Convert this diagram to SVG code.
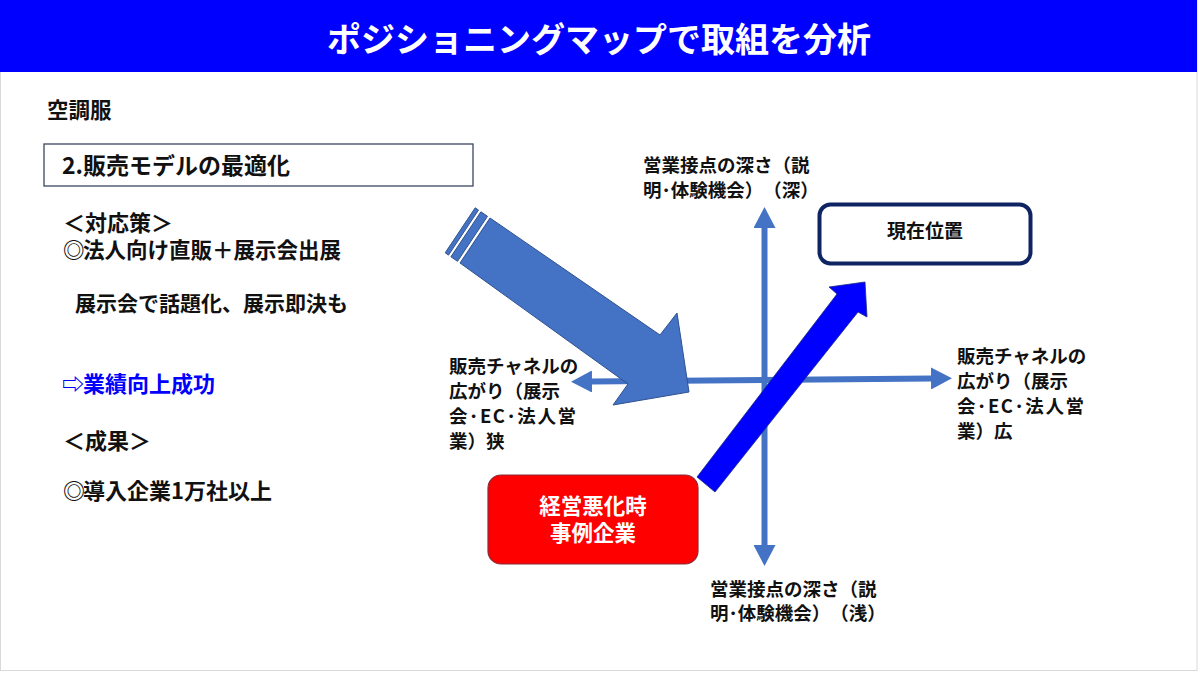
<svg xmlns="http://www.w3.org/2000/svg" width="1200" height="673" viewBox="0 0 1200 673">
  <defs>
    <style>
      .jp { font-family: "Noto Sans CJK JP", "Noto Sans", sans-serif; font-weight: 700; text-spacing-trim: space-all; }
      .body { font-size: 21.5px; fill: #111; }
      .lbl { font-size: 18.5px; fill: #111; }
      .axis { stroke: #4472C4; stroke-width: 6; fill: none; }
    </style>
    <marker id="ah" markerUnits="userSpaceOnUse" markerWidth="22" markerHeight="22" refX="0" refY="11" orient="auto-start-reverse" viewBox="0 0 22 22">
      <path d="M0,0 L21,11 L0,22 z" fill="#4472C4"/>
    </marker>
  </defs>

  <rect x="0" y="0" width="1200" height="673" fill="#ffffff"/>
  <rect x="0.5" y="0.5" width="1196.5" height="670" fill="none" stroke="#d9d9d9" stroke-width="1"/>

  <g id="title">
    <rect x="0" y="0" width="1197" height="72" fill="#0000FF"/>
    <text x="599" y="52" text-anchor="middle" class="jp" font-size="34" fill="#ffffff">ポジショニングマップで取組を分析</text>
  </g>

  <g id="left-text">
    <text x="47" y="118" class="jp" font-size="21.5" fill="#111">空調服</text>
    <rect x="44" y="144" width="429" height="42" fill="#ffffff" stroke="#3a4660" stroke-width="1.3"/>
    <text x="62" y="174" class="jp" font-size="23" fill="#111">2.販売モデルの最適化</text>
    <text x="63" y="231" class="jp" font-size="22" fill="#111">＜対応策＞</text>
    <text y="258" class="jp body"><tspan x="63">◎</tspan><tspan x="83">法人向け直販＋展示会出展</tspan></text>
    <text x="75" y="311" class="jp" font-size="21" fill="#111">展示会で話題化、展示即決も</text>
    <text y="392" class="jp" font-size="22" fill="#0000FF"><tspan x="62">⇨</tspan><tspan x="83">業績向上成功</tspan></text>
    <text x="63" y="449" class="jp" font-size="22" fill="#111">＜成果＞</text>
    <text y="499" class="jp" font-size="22" fill="#111"><tspan x="63">◎</tspan><tspan x="83">導入企業1万社以上</tspan></text>
  </g>

  <g id="connectors">
    <line x1="764.5" y1="228" x2="764.5" y2="545" class="axis" marker-start="url(#ah)" marker-end="url(#ah)"/>
    <line x1="592" y1="381.5" x2="931" y2="378.5" class="axis" marker-start="url(#ah)" marker-end="url(#ah)"/>
  </g>

  <g id="striped-arrow" fill="#4472C4" stroke="#2F528F" stroke-width="1">
    <polygon points="475.2,207.8 478.5,210.1 448.5,255.1 445.2,252.8"/>
    <polygon points="480.9,211.8 487.5,216.3 457.5,261.3 450.9,256.8"/>
    <polygon points="490,218 660,335 677,313 689,392 613,405 628,384 460,263"/>
  </g>

  <g id="current-arrow">
    <polygon points="697,477 837,294 829,287 865,282 867,317 858,312 715,492" fill="#0000FF" stroke="#1a2a80" stroke-width="0.8"/>
  </g>

  <g id="node-top-label">
    <text class="jp lbl"><tspan x="643" y="172">営業接点の深さ（説</tspan><tspan x="643" y="196.5">明･体験機会）（深）</tspan></text>
  </g>

  <g id="node-bottom-label">
    <text class="jp lbl"><tspan x="710" y="596">営業接点の深さ（説</tspan><tspan x="710" y="619.5">明･体験機会）（浅）</tspan></text>
  </g>

  <g id="node-left-label">
    <text class="jp lbl"><tspan x="449" y="373">販売チャネルの</tspan><tspan x="449" y="398">広がり（展示</tspan><tspan x="449" y="423" textLength="127" lengthAdjust="spacing">会･EC･法人営</tspan><tspan x="449" y="448">業）狭</tspan></text>
  </g>

  <g id="node-right-label">
    <text class="jp lbl"><tspan x="957" y="363">販売チャネルの</tspan><tspan x="957" y="388">広がり（展示</tspan><tspan x="957" y="413" textLength="127" lengthAdjust="spacing">会･EC･法人営</tspan><tspan x="957" y="438">業）広</tspan></text>
  </g>

  <g id="node-current">
    <rect x="819.5" y="204.5" width="211" height="59" rx="11" fill="#ffffff" stroke="#0f2563" stroke-width="4"/>
    <text x="925" y="238" text-anchor="middle" class="jp" font-size="19" fill="#111">現在位置</text>
  </g>

  <g id="node-red">
    <rect x="488" y="475" width="210" height="89" rx="13" fill="#FF0000" stroke="#8a2b3a" stroke-width="1.2"/>
    <text class="jp" font-size="21.5" fill="#ffffff" text-anchor="middle"><tspan x="593" y="514">経営悪化時</tspan><tspan x="593" y="541">事例企業</tspan></text>
  </g>
</svg>
